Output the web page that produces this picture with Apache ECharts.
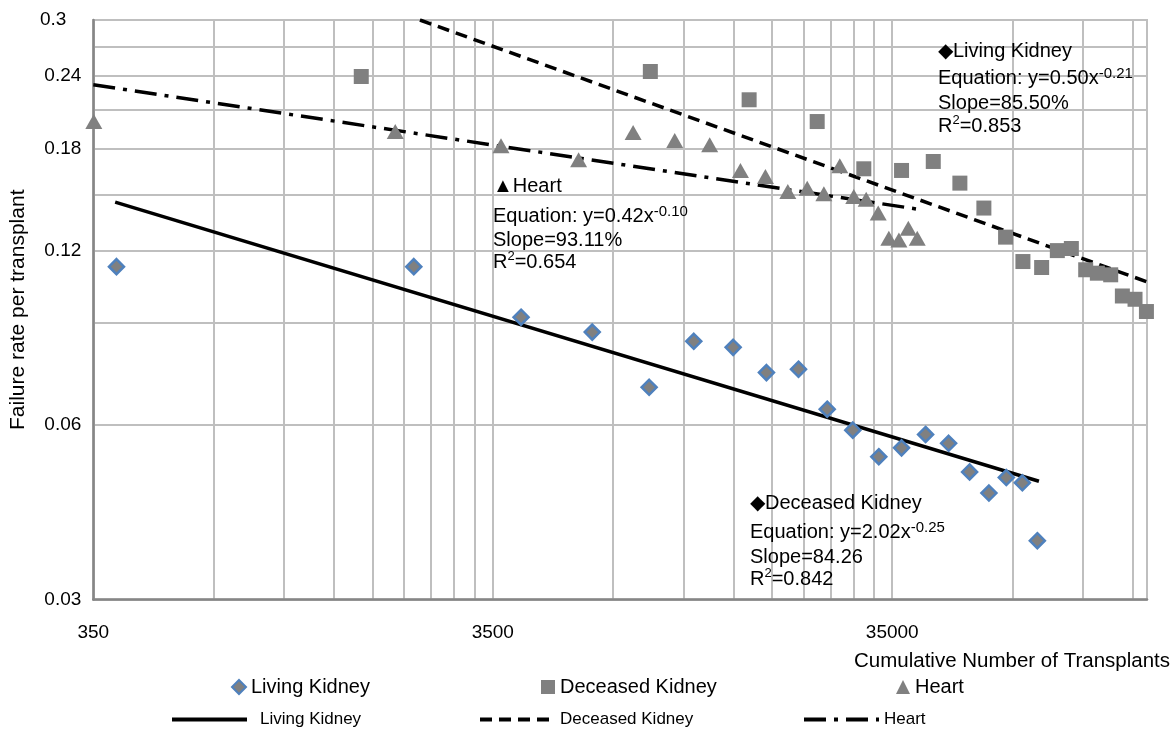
<!DOCTYPE html>
<html>
<head>
<meta charset="utf-8">
<script src="https://cdn.jsdelivr.net/npm/echarts@6/dist/echarts.min.js"></script>
<style>
html,body{margin:0;padding:0;background:#fff;}
#chart{width:1174px;height:729px;}
</style>
</head>
<body>
<div id="chart"></div>
<script>
// ---- data ----
const livingKidneyX = [400, 2220, 4120, 6210, 8620, 11150, 13990, 16950, 20390, 24060, 27880, 32390, 36930, 42420, 48440, 54670, 61110, 67550, 74100, 80780];
const livingKidneyY = [0.1126, 0.1126, 0.0921, 0.0868, 0.0697, 0.0837, 0.0817, 0.0739, 0.0749, 0.0639, 0.0588, 0.0529, 0.0548, 0.0578, 0.0558, 0.0498, 0.0458, 0.0487, 0.0477, 0.0379];

const deceasedKidneyX = [1640, 8680, 15340, 22710, 29710, 36930, 44340, 51690, 59360, 67270, 74340, 82810, 90650, 98280, 106750, 114170, 123300, 131880, 141860, 151500];
const deceasedKidneyY = [0.2397, 0.2445, 0.2185, 0.2004, 0.1661, 0.1650, 0.1710, 0.1569, 0.1421, 0.1266, 0.1149, 0.1122, 0.1200, 0.1210, 0.1112, 0.1097, 0.1090, 0.1002, 0.0989, 0.0942];

const heartX = [351, 1995, 3670, 5740, 7860, 9990, 12220, 14590, 16850, 19170, 21440, 23600, 25870, 28040, 30120, 32280, 34320, 36370, 38400, 40430];
const heartY = [0.2004, 0.1926, 0.1820, 0.1721, 0.1919, 0.1859, 0.1827, 0.1650, 0.1611, 0.1517, 0.1538, 0.1504, 0.1681, 0.1488, 0.1472, 0.1393, 0.1261, 0.1252, 0.1312, 0.1261];

// power-law trend lines, end points
const livingTrendX = [397, 81530];
const livingTrendY = [0.1455, 0.0480];
const deceasedTrendX = [2300, 152000];
const deceasedTrendY = [0.3, 0.106];
const heartTrendX = [350, 40430];
const heartTrendY = [0.232, 0.1415];

// axis ticks
const xGridTicks = [350, 700, 1050, 1400, 1750, 2100, 2450, 2800, 3150, 3500, 7000, 10500, 14000, 17500, 21000, 24500, 28000, 31500, 35000, 70000, 105000, 140000];
const xLabelTicks = [350, 3500, 35000];
const yGridTicks = [0.03, 0.06, 0.09, 0.12, 0.15, 0.18, 0.21, 0.24, 0.27, 0.3];
const yLabelTicks = [0.03, 0.06, 0.12, 0.18, 0.24, 0.3];

const seriesNames = ['Living Kidney', 'Deceased Kidney', 'Heart'];
const trendNames = ['Living Kidney trend', 'Deceased Kidney trend', 'Heart trend'];

const F = '"Liberation Sans", Arial, Helvetica, sans-serif';
const zip = (xs, ys) => xs.map((x, i) => [x, ys[i]]);

const chart = echarts.init(document.getElementById('chart'), null, {renderer: 'canvas'});

const gridColor = '#BFBFBF';
const axisColor = '#868686';

function annot(x, y, text, size) {
  return {
    type: 'text', x: x, y: y, z: 100,
    style: {
      text: text, fontFamily: F, fontSize: size || 20, fill: '#000',
      verticalAlign: 'middle', align: 'left',
      rich: {
        m: {fontFamily: F, fontSize: size || 20, lineHeight: 24, fill: '#000', color: '#000'},
        s: {fontFamily: F, fontSize: 15, lineHeight: 14, verticalAlign: 'top', fill: '#000', color: '#000'},
        r: {fontFamily: F, fontSize: 13, lineHeight: 14, verticalAlign: 'top', fill: '#000', color: '#000'}
      }
    }
  };
}

const symbolLegend = (name, left) => ({
  data: [name], left: left, top: 677, padding: 0, itemWidth: 14, itemHeight: 14, selectedMode: false,
  textStyle: {fontFamily: F, fontSize: 20, color: '#000'}
});
const lineLegend = (name, left, pad) => ({
  data: [name], left: left, top: 711, padding: 0, itemWidth: 75, itemHeight: 14, selectedMode: false,
  formatter: n => n.replace(' trend', ''),
  itemStyle: {opacity: 0, color: 'rgba(0,0,0,0)', borderWidth: 0},
  lineStyle: {width: 4, color: '#000'},
  textStyle: {fontFamily: F, fontSize: 17, color: '#000', padding: [0, 0, 0, pad]}
});

const option = {
  backgroundColor: '#fff',
  animation: false,
  grid: {left: 93, right: 27, top: 20, bottom: 129.5, show: true, borderColor: gridColor, borderWidth: 2, backgroundColor: '#fff', containLabel: false},
  xAxis: {
    type: 'log', logBase: 10, min: 350, max: 152000,
    name: 'Cumulative Number of Transplants',
    nameLocation: 'end', nameGap: 23,
    nameTextStyle: {fontFamily: F, fontSize: 20.5, color: '#000', align: 'right', verticalAlign: 'top', padding: [51, 0, 0, 0]},
    axisLine: {show: true, lineStyle: {color: axisColor, width: 2.5}},
    axisTick: {show: false, customValues: xGridTicks},
    axisLabel: {customValues: xLabelTicks, margin: 24, fontFamily: F, fontSize: 19, color: '#000',
      formatter: v => String(+(+v).toPrecision(6))},
    splitLine: {show: true, lineStyle: {color: gridColor, width: 2}},
    minorTick: {show: false}, minorSplitLine: {show: false}
  },
  yAxis: {
    type: 'log', logBase: 10, min: 0.03, max: 0.3,
    name: 'Failure rate per transplant',
    nameLocation: 'middle', nameGap: 62,
    nameTextStyle: {fontFamily: F, fontSize: 21, color: '#000'},
    axisLine: {show: true, lineStyle: {color: axisColor, width: 2.5}},
    axisTick: {show: false, customValues: yGridTicks},
    axisLabel: {customValues: yLabelTicks, margin: 12, fontFamily: F, fontSize: 19, color: '#000',
      formatter: v => {
        const s = String(+(+v).toPrecision(6));
        return s === '0.3' ? '{p|' + s + '}' : s;
      },
      rich: {p: {fontFamily: F, fontSize: 19, color: '#000', padding: [0, 15, 0, 0]}}
    },
    splitLine: {show: true, lineStyle: {color: gridColor, width: 2}}
  },
  legend: [
    symbolLegend(seriesNames[0], 231),
    symbolLegend(seriesNames[1], 541),
    symbolLegend(seriesNames[2], 896),
    lineLegend(trendNames[0], 170, 8),
    lineLegend(trendNames[1], 478, 0),
    lineLegend(trendNames[2], 802, 0)
  ],
  series: [
    {name: trendNames[0], type: 'line', data: zip(livingTrendX, livingTrendY), symbol: 'none', clip: true, z: 3,
     lineStyle: {color: '#000', width: 3.5, type: 'solid'}, itemStyle: {color: '#000'}},
    {name: trendNames[1], type: 'line', data: zip(deceasedTrendX, deceasedTrendY), symbol: 'none', clip: true, z: 3,
     lineStyle: {color: '#000', width: 3.5, type: [12, 7]}, itemStyle: {color: '#000'}},
    {name: trendNames[2], type: 'line', data: zip(heartTrendX, heartTrendY), symbol: 'none', clip: true, z: 3,
     lineStyle: {color: '#000', width: 3.5, type: [22, 8, 4, 8]}, itemStyle: {color: '#000'}},
    {name: seriesNames[0], type: 'scatter', data: zip(livingKidneyX, livingKidneyY), symbol: 'diamond', symbolSize: 15, z: 4,
     itemStyle: {color: '#808080', borderColor: '#4F81BD', borderWidth: 2.5, opacity: 1}},
    {name: seriesNames[1], type: 'scatter', data: zip(deceasedKidneyX, deceasedKidneyY), symbol: 'rect', symbolSize: 15, z: 4,
     itemStyle: {color: '#808080', opacity: 1}},
    {name: seriesNames[2], type: 'scatter', data: zip(heartX, heartY), symbol: 'triangle', symbolSize: [17, 15], z: 4,
     itemStyle: {color: '#808080', opacity: 1}}
  ],
  graphic: [
    annot(493, 186, '\u25B2Heart'),
    annot(493, 216, '{m|Equation: y=0.42x}{s|-0.10}'),
    annot(493, 240, 'Slope=93.11%'),
    annot(493, 262, '{m|R}{r|2}{m|=0.654}'),
    annot(938, 51, '\u25C6Living Kidney'),
    annot(938, 78, '{m|Equation: y=0.50x}{s|-0.21}'),
    annot(938, 103, 'Slope=85.50%'),
    annot(938, 126, '{m|R}{r|2}{m|=0.853}'),
    annot(750, 503, '\u25C6Deceased Kidney'),
    annot(750, 532, '{m|Equation: y=2.02x}{s|-0.25}'),
    annot(750, 557, 'Slope=84.26'),
    annot(750, 579, '{m|R}{r|2}{m|=0.842}')
  ]
};

chart.setOption(option);
</script>
</body>
</html>
